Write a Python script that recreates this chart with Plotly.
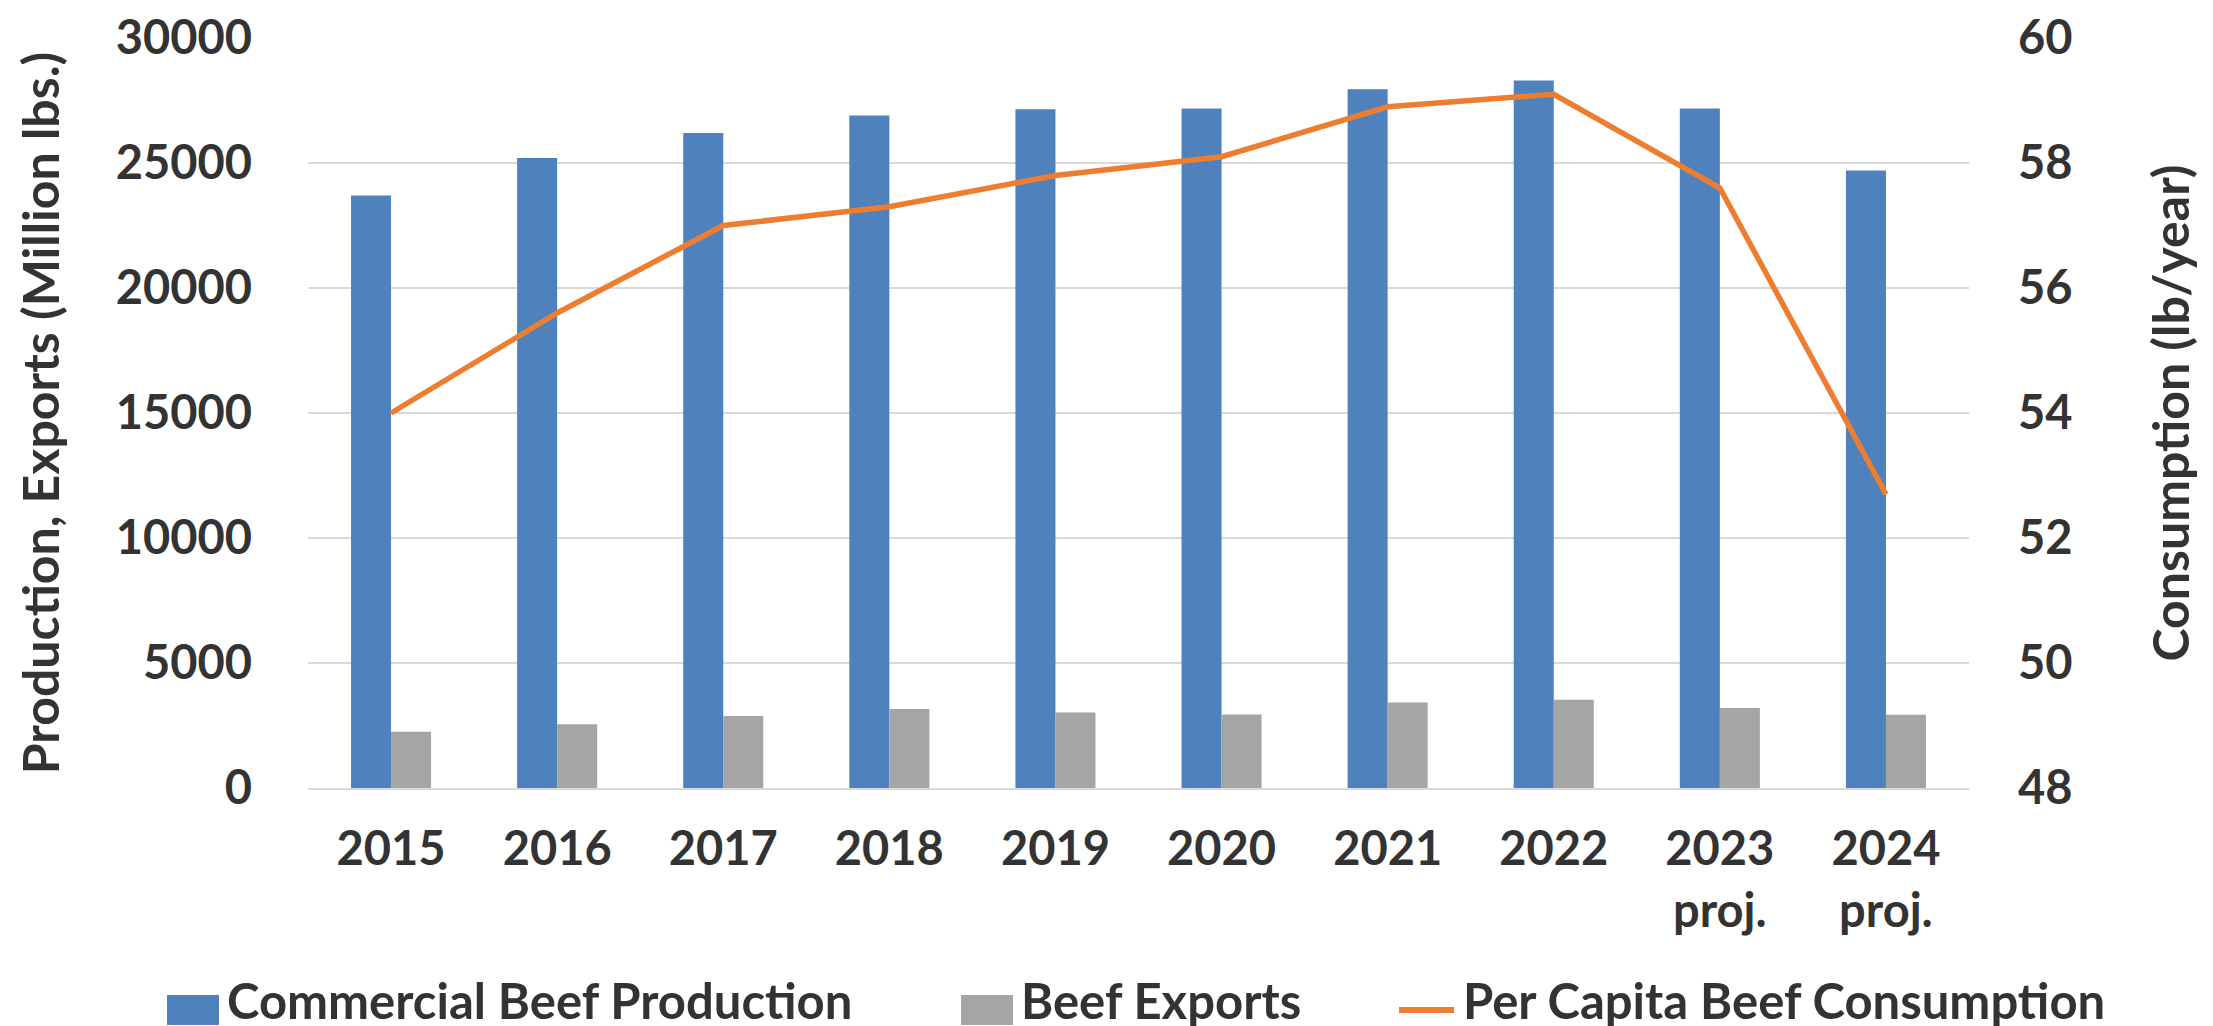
import plotly.graph_objects as go

categories = ["2015", "2016", "2017", "2018", "2019", "2020", "2021", "2022",
              "2023<br>proj.", "2024<br>proj."]
production = [23700, 25200, 26200, 26900, 27150, 27180, 27950, 28300, 27180, 24700]
exports = [2250, 2550, 2880, 3160, 3020, 2940, 3420, 3530, 3200, 2930]
consumption = [54.0, 55.6, 57.0, 57.3, 57.8, 58.1, 58.9, 59.1, 57.6, 52.7]

series_names = ["Commercial Beef Production", "Beef Exports", "Per Capita Beef Consumption"]
colors = ["#4F81BD", "#A5A5A5", "#ED7D31"]

FONT = "Lato"
TXT = "#333333"
W, H = 2213, 1026
L, R, T, B = 300, 252, 30, 246
PW, PH = W - L - R, H - T - B

fig = go.Figure()
fig.add_trace(go.Bar(x=categories, y=production, name=series_names[0],
                     marker=dict(color=colors[0], line=dict(width=0)), yaxis="y"))
fig.add_trace(go.Bar(x=categories, y=exports, name=series_names[1],
                     marker=dict(color=colors[1], line=dict(width=0)), yaxis="y"))
fig.add_trace(go.Scatter(x=categories, y=consumption, name=series_names[2], mode="lines",
                         line=dict(color=colors[2], width=5.5), yaxis="y2"))

tickfont = dict(family=FONT, size=47, color=TXT, weight="bold")
titlefont = dict(family=FONT, size=50, color=TXT, weight="bold")

fig.update_layout(
    width=W, height=H,
    margin=dict(l=L, r=R, t=T, b=B, autoexpand=False),
    paper_bgcolor="white", plot_bgcolor="white",
    showlegend=False,
    barmode="group", bargap=0.518, bargroupgap=0,
    xaxis=dict(type="category", tickfont=tickfont, showgrid=False, ticks="",
               showline=True, linecolor="#D9D9D9", linewidth=2,
               ticklabelstandoff=19, automargin=False),
    yaxis=dict(range=[0, 30000], dtick=5000, tickformat="d", tickfont=tickfont, ticks="",
               showgrid=True, gridcolor="#D9D9D9", gridwidth=2,
               zeroline=False, showline=False, ticklabelstandoff=55,
               automargin=False,
               title=dict(text="Production, Exports (Million lbs.)",
                          font=titlefont, standoff=40)),
    yaxis2=dict(range=[48, 60], dtick=2, overlaying="y", side="right",
                tickfont=tickfont, ticks="", showgrid=False, zeroline=False,
                showline=False, ticklabelstandoff=48, automargin=False,
                title=dict(text="Consumption (lb/year)",
                           font=titlefont, standoff=82)),
)

# Legend drawn below the plot (large swatches as in the reference)
def px_x(px):
    return (px - L) / PW

def px_y(py):
    return (H - B - py) / PH

legend_items = [
    (series_names[0], colors[0], "box", 159, 211, 217),
    (series_names[1], colors[1], "box", 953, 1005, 1011),
    (series_names[2], colors[2], "line", 1391, 1446, 1453),
]
ly = 1002
for name, col, kind, x0, x1, tx in legend_items:
    if kind == "box":
        fig.add_shape(type="rect", xref="paper", yref="paper",
                      x0=px_x(x0), x1=px_x(x1), y0=px_y(ly - 15), y1=px_y(ly + 15),
                      fillcolor=col, line=dict(width=0), layer="above")
    else:
        fig.add_shape(type="line", xref="paper", yref="paper",
                      x0=px_x(x0), x1=px_x(x1), y0=px_y(ly), y1=px_y(ly),
                      line=dict(color=col, width=6), layer="above")
    fig.add_annotation(xref="paper", yref="paper", x=px_x(tx), y=px_y(ly - 10),
                       xanchor="left", yanchor="middle", showarrow=False,
                       text=name, font=dict(family=FONT, size=49, color=TXT, weight="bold"))

fig.write_html("out.html")
